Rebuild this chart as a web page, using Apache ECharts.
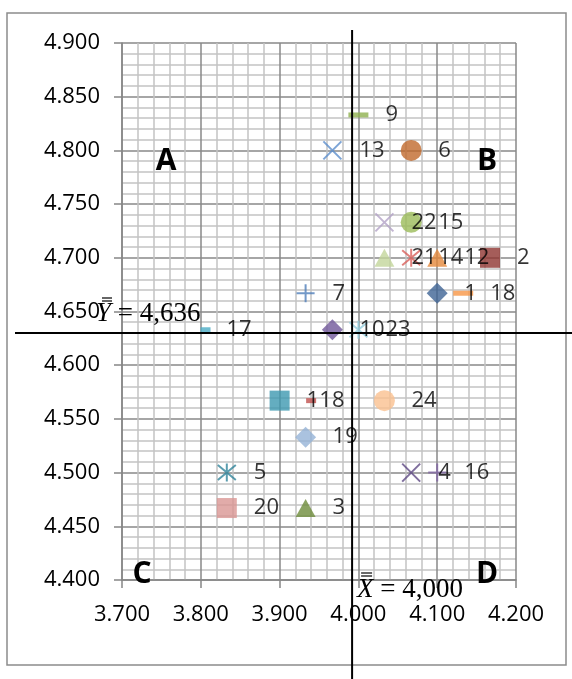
<!DOCTYPE html>
<html><head><meta charset="utf-8">
<script src="https://cdn.jsdelivr.net/npm/echarts@6/dist/echarts.min.js"></script>
<style>html,body{margin:0;padding:0;background:#fff}#c{width:572px;height:679px}</style>
</head><body><div id="c"></div>
<script>
// ---- data ----
const pointIds = ['1','2','3','4','5','6','7','8','9','10','11','12','13','14','15','16','17','18','19','20','21','22','23','24'];
const xValues = [4.100,4.167,3.933,4.067,3.833,4.067,3.933,3.940,4.000,3.967,3.900,4.100,3.967,4.067,4.067,4.100,3.806,4.133,3.933,3.833,4.033,4.033,4.000,4.033];
const yValues = [4.667,4.700,4.467,4.500,4.500,4.800,4.667,4.567,4.833,4.633,4.567,4.700,4.800,4.700,4.733,4.500,4.633,4.667,4.533,4.467,4.700,4.733,4.633,4.567];
const xTickLabels = ['3.700','3.800','3.900','4.000','4.100','4.200'];
const yTickLabels = ['4.400','4.450','4.500','4.550','4.600','4.650','4.700','4.750','4.800','4.850','4.900'];
const meanLineX = 3.992, meanLineY = 4.630;
const meanXText = '4,000', meanYText = '4,636';
const quadrantLabels = ['A','B','C','D'];

// ---- styles (per point, separate from data) ----
const X = 'path://M0,0L10,10M10,0L0,10';
const STAR = 'path://M0,0L10,10M10,0L0,10M5,-1L5,11';
const PLUS = 'path://M5,0L5,10M0,5L10,5';
const S = {
  diamond:{symbol:'diamond',size:[21,21],fill:true},
  square:{symbol:'rect',size:[20,20],fill:true},
  tri:{symbol:'triangle',size:[20,18],fill:true},
  x:{symbol:X,size:[18,18],fill:false},
  star:{symbol:STAR,size:[18,18],fill:false},
  circle:{symbol:'circle',size:[21,21],fill:true},
  plus:{symbol:PLUS,size:[18,18],fill:false},
  dash:{symbol:'rect',size:[20,5],fill:true},
  sdash:{symbol:'rect',size:[10,5],fill:true}
};
const pointStyles = [
  ['diamond','#3E6495'],['square','#8E3431'],['tri','#6E8C3B'],['x','#5F4A85'],['star','#31849B'],['circle','#C0692C'],
  ['plus','#4F7EBA'],['sdash','#C0504D'],['dash','#8FB04F'],['diamond','#71589A'],['square','#3D98B0'],['tri','#E5883B'],
  ['x','#5B8DCC'],['star','#D9605B'],['circle','#9BBB59'],['plus','#8064A2'],['sdash','#4BACC6'],['dash','#F79646'],
  ['diamond','#95B3D7'],['square','#D99694'],['tri','#C3D69B'],['x','#B3A2C7'],['star','#93CDDD'],['circle','#FAC090']
];

const FONT = '"Open Sans", "Noto Sans", sans-serif';
const xMin = parseFloat(xTickLabels[0]), xMax = parseFloat(xTickLabels[xTickLabels.length-1]);
const yMin = parseFloat(yTickLabels[0]), yMax = parseFloat(yTickLabels[yTickLabels.length-1]);

const markerData = pointIds.map((id,i)=>{
  const st = S[pointStyles[i][0]], c = pointStyles[i][1];
  return {
    value:[xValues[i], yValues[i]], name:id,
    symbol:st.symbol, symbolSize:st.size,
    itemStyle: st.fill ? {color:c, borderWidth:0} : {color:'transparent', borderColor:c, borderWidth:2}
  };
});
const labelData = pointIds.map((id,i)=>{
  const st = S[pointStyles[i][0]];
  const off = pointStyles[i][0]==='sdash' ? 21 : 27;
  return {
    value:[xValues[i], yValues[i]], name:id,
    symbol:'rect', symbolSize:st.size,
    label:{position:[st.size[0]/2 + off, st.size[1]/2]}
  };
});

const chart = echarts.init(document.getElementById('c'), null, {renderer:'canvas'});
const gridLine = {lineStyle:{color:'#888888', width:1.5}};
const minorLine = {lineStyle:{color:'#C4C4C4', width:1.5}};
chart.setOption({
  animation:false,
  backgroundColor:'#ffffff',
  grid:{left:122, right:56, top:43, bottom:99, containLabel:false},
  xAxis:{
    type:'value', min:xMin, max:xMax, interval:0.1,
    axisLine:{show:true, onZero:false, lineStyle:{color:'#868686', width:1.5}},
    axisTick:{show:true, length:8, lineStyle:{color:'#868686', width:1.5}},
    axisLabel:{margin:24, color:'#000', fontSize:22, fontFamily:FONT,
      formatter:(v)=>{const k=Math.round((v-xMin)/0.1); return xTickLabels[k]||'';}},
    splitLine:{show:true, ...gridLine},
    minorTick:{show:false, splitNumber:5},
    minorSplitLine:{show:true, ...minorLine}
  },
  yAxis:{
    type:'value', min:yMin, max:yMax, interval:0.05,
    axisLine:{show:true, onZero:false, lineStyle:{color:'#868686', width:1.5}},
    axisTick:{show:true, length:8, lineStyle:{color:'#868686', width:1.5}},
    axisLabel:{margin:22, color:'#000', fontSize:22, fontFamily:FONT,
      formatter:(v)=>{const k=Math.round((v-yMin)/0.05); return yTickLabels[k]||'';}},
    splitLine:{show:true, ...gridLine},
    minorTick:{show:false, splitNumber:5},
    minorSplitLine:{show:true, ...minorLine}
  },
  series:[
    {type:'scatter', data:markerData, z:3, label:{show:false}},
    {type:'scatter', data:labelData, z:5, silent:true,
      itemStyle:{color:'transparent', borderWidth:0},
      label:{show:true, formatter:(p)=>p.name, align:'left', verticalAlign:'middle',
        color:'#000', fontSize:22, fontFamily:FONT}}
  ]
});

// annotations
const vx = chart.convertToPixel({gridIndex:0}, [meanLineX, yMin])[0];
const hy = chart.convertToPixel({gridIndex:0}, [xMin, meanLineY])[1];
const SERIF = '"Liberation Serif", "DejaVu Serif", serif';
const qFont = 'bold 30px ' + FONT;
const sFont = '27px ' + SERIF;
const bar = (x1,x2,y)=>({type:'line', shape:{x1:x1, y1:y, x2:x2, y2:y}, style:{stroke:'#000', lineWidth:1.2}, z:10});
const xtx = vx + 5, ytx = 96;
chart.setOption({graphic:[
  {type:'rect', shape:{x:7, y:13, width:559, height:652}, style:{fill:'none', stroke:'#8C8C8C', lineWidth:1.5}, z:1},
  {type:'line', shape:{x1:vx, y1:30, x2:vx, y2:679}, style:{stroke:'#000', lineWidth:2}, z:10},
  {type:'line', shape:{x1:15, y1:hy, x2:572, y2:hy}, style:{stroke:'#000', lineWidth:2}, z:10},
  {type:'text', style:{x:166, y:161, text:quadrantLabels[0], font:qFont, fill:'#000', align:'center', verticalAlign:'middle'}, z:10},
  {type:'text', style:{x:487, y:161, text:quadrantLabels[1], font:qFont, fill:'#000', align:'center', verticalAlign:'middle'}, z:10},
  {type:'text', style:{x:142, y:574, text:quadrantLabels[2], font:qFont, fill:'#000', align:'center', verticalAlign:'middle'}, z:10},
  {type:'text', style:{x:487, y:574, text:quadrantLabels[3], font:qFont, fill:'#000', align:'center', verticalAlign:'middle'}, z:10},
  {type:'text', style:{x:xtx, y:590, text:'{i|X} = ' + meanXText, font:sFont, fill:'#000', align:'left', verticalAlign:'middle',
    rich:{i:{fontStyle:'italic', fontSize:27, fontFamily:SERIF}}}, z:10},
  bar(xtx+4, xtx+15, 573), bar(xtx+4, xtx+15, 576),
  {type:'text', style:{x:ytx, y:314, text:'{i|Y} = ' + meanYText, font:sFont, fill:'#000', align:'left', verticalAlign:'middle',
    rich:{i:{fontStyle:'italic', fontSize:27, fontFamily:SERIF}}}, z:10},
  bar(ytx+6, ytx+16, 298), bar(ytx+6, ytx+16, 301)
]});
</script></body></html>
